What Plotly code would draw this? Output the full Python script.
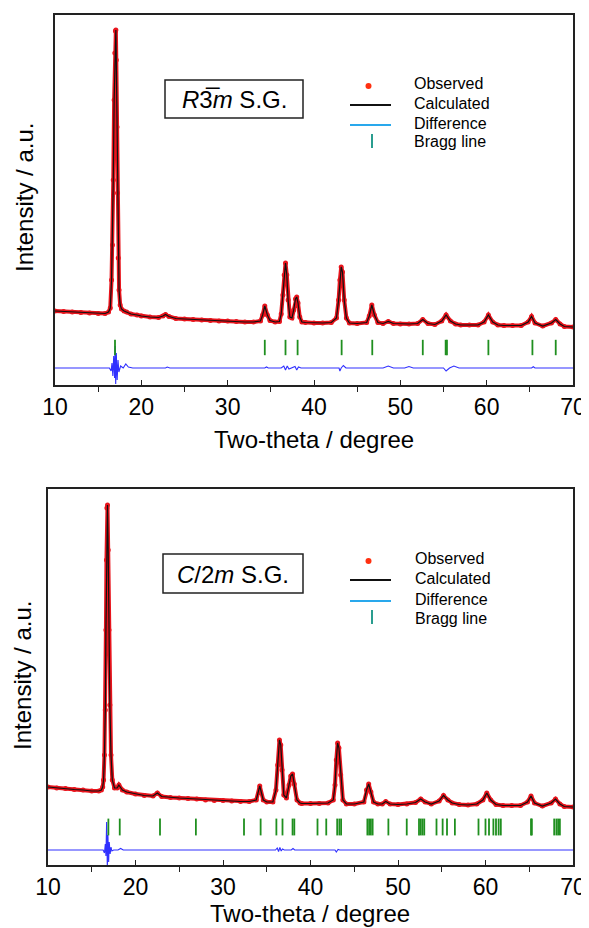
import plotly.graph_objects as go

# The page body has an 8 px margin, so the figure is drawn 8 px in from the corner.
PAGE_W, PAGE_H = 589, 928
OFF = 8
W, H = PAGE_W - OFF, PAGE_H - OFF

# ---------------- data ----------------
# Top panel: R-3m refinement
TOP_TT = [10, 11, 12, 13, 14, 15, 15.8, 16.2, 16.4, 16.55, 16.65, 16.75, 16.85, 16.93, 17.0, 17.05,
          17.1, 17.18, 17.25, 17.33, 17.42, 17.55, 17.7, 18.0, 18.3, 18.8, 19.5, 20, 21, 22, 22.5,
          22.8, 23.2, 24, 25, 26, 27, 28, 29, 30, 31, 32, 33, 33.8, 34.05, 34.3, 34.6, 34.9, 35.5,
          36.0, 36.2, 36.4, 36.55, 36.7, 36.85, 37.0, 37.2, 37.45, 37.65, 37.85, 38.0, 38.15, 38.35,
          38.6, 39, 40, 41, 42, 42.6, 42.85, 43.0, 43.15, 43.3, 43.5, 43.75, 44.1, 45, 46.1, 46.4,
          46.7, 47.0, 47.4, 48, 48.6, 49.2, 50, 51, 52, 52.6, 53.2, 54, 54.8, 55.3, 55.8, 56.4, 57,
          58, 59, 59.7, 60.2, 60.7, 61.3, 62, 63, 64, 64.8, 65.2, 65.6, 66.5, 67.5, 68.0, 68.5, 69, 70]
TOP_OBS = [89, 88.5, 88, 87.5, 87, 86.5, 86.5, 88, 92, 120, 155, 220, 300, 347, 369, 370,
           340, 273, 207, 142, 110, 95, 91, 89, 88, 86, 85, 84, 83, 82.5, 84,
           85.5, 83.5, 81.5, 81, 80.5, 80, 79.5, 79, 79, 78.5, 78, 78, 79, 85, 94, 85, 79.5, 78,
           78.5, 86, 105, 125, 137, 125, 100, 83, 82, 90, 101, 103, 97, 83,
           78, 77.5, 77, 77, 77.5, 82, 100, 120, 133, 128, 100, 82, 77, 76.5, 77.5, 84,
           95, 85, 77.5, 76.5, 78.5, 76.5, 76, 76, 76.5, 80.5, 76.5, 75.5, 79, 85, 79, 76, 75,
           75, 75, 78, 85, 78, 75, 74.5, 74.5, 74.5, 78, 83.5, 77, 74, 77, 80.5, 76, 73.5, 73]
TOP_CALC = TOP_OBS
TOP_DIFF_TT = [10, 16.3, 16.5, 16.6, 16.7, 16.8, 16.9, 16.97, 17.03, 17.1, 17.2, 17.3, 17.4, 17.6,
               17.9, 18.2, 18.5, 19, 22.8, 23.0, 23.3, 34.3, 34.5, 34.7, 36.2, 36.5, 36.7, 36.9,
               37.1, 37.8, 38.0, 38.2, 38.5, 42.9, 43.0, 43.15, 43.4, 43.7, 48, 48.6, 49.2, 50.5,
               51.0, 51.5, 55.0, 55.3, 55.7, 56.2, 56.8, 65.2, 65.4, 65.6, 70]
TOP_DIFF = [0, 0, -3, 5, -8, 12, -10, 22, -16, 15, -12, 8, -4, 2,
            0, 4, 1, 0, 0, 1, 0, 0, 1, 0, 0, 2, -2, 2,
            -1, 1.5, -2, 1, 0, 0, -3, 0, 2.5, 0, 0, 2, 0, 0,
            1.5, 0, 0, -3, 0, 2, 0, 0, 1.3, 0, 0]
TOP_BRAGG = [16.95, 34.3, 36.7, 38.1, 43.2, 46.75, 52.6, 55.25, 55.4, 60.2, 65.3, 68.0]

# Bottom panel: C2/m refinement
BOT_TT = [10, 11, 12, 13, 14, 15, 15.8, 16.1, 16.25, 16.35, 16.45, 16.55, 16.62, 16.68, 16.73,
          16.8, 16.88, 16.97, 17.07, 17.2, 17.35, 17.6, 17.9, 18.1, 18.5, 19, 20, 21, 22, 22.5,
          23, 24, 25, 26, 27, 28, 29, 30, 31, 32, 33, 33.8, 34.2, 34.6, 35, 35.7, 36.05, 36.25,
          36.45, 36.6, 36.75, 36.95, 37.25, 37.55, 37.75, 37.95, 38.15, 38.45, 38.8, 39, 40, 41,
          42, 42.6, 42.8, 42.95, 43.1, 43.25, 43.45, 43.7, 44.1, 45, 46.1, 46.4, 46.65, 46.9, 47.2,
          47.7, 48.2, 48.6, 49.1, 50, 51, 52, 52.6, 53.1, 53.8, 54.7, 55.2, 55.7, 56.2, 57, 58, 59,
          59.7, 60.15, 60.6, 61.2, 62, 63, 64, 64.8, 65.2, 65.6, 66.5, 67.5, 68.0, 68.5, 69, 70]
BOT_OBS = [93, 92, 91.5, 90.5, 90, 89, 89, 90, 93, 100, 125, 170, 250, 320, 372,
           375, 330, 250, 175, 125, 100, 92, 92, 95, 90, 88, 86, 84.5, 84, 87,
           83.5, 82.5, 82, 81.5, 81, 80, 79.5, 79.5, 79, 78.5, 78.5, 80, 94, 80, 78, 78, 90, 115,
           140, 135, 110, 85, 82, 95, 104, 106, 96, 80, 77, 76.5, 76.5, 76.5,
           77, 80, 95, 120, 137, 132, 105, 80, 76, 76, 78, 90,
           96, 88, 78, 76, 76, 78.5, 76, 75.5, 76, 77.5, 81, 78, 76, 79, 84.5, 80, 77, 75.5, 75, 76,
           80, 87, 80, 75.5, 74.5, 74.5, 74.5, 78, 84, 77, 74, 77, 81, 76, 73.5, 73]
BOT_CALC = BOT_OBS
BOT_DIFF_TT = [10, 16.3, 16.45, 16.55, 16.62, 16.7, 16.78, 16.85, 16.93, 17.0, 17.1, 17.2, 17.3,
               17.5, 18.0, 18.3, 18.6, 36.0, 36.2, 36.35, 36.5, 36.65, 36.8, 37.0, 37.8, 38.0,
               38.2, 42.8, 42.95, 43.15, 43.35, 70]
BOT_DIFF = [0, 0, -3, 6, -6, 28, -18, 15, -12, 8, -4, 3, -1,
            0, 0, 1.5, 0, 0, 2, -1.5, 2.5, -1, 1, 0, 0, 1.5,
            0, 0, -2, 0.5, 0, 0]
BOT_BRAGG = [16.9, 18.2, 22.8, 26.9, 32.4, 34.3, 36.1, 36.8, 37.95, 38.15, 40.8, 41.8, 43.05,
             43.3, 43.5, 46.5, 46.7, 46.9, 47.1, 48.9, 51.0, 52.4, 52.6, 52.8, 53.0, 54.4, 55.1,
             55.6, 56.5, 59.2, 60.0, 60.4, 60.9, 61.2, 61.5, 61.75, 65.2, 65.3, 67.85, 68.1,
             68.3, 68.5]

DIFF_OFFSET_TOP = 32
DIFF_OFFSET_BOT = 30
BRAGG_Y_TOP = 52.5
BRAGG_Y_BOT = 53

X_TICKS = [10, 20, 30, 40, 50, 60, 70]
X_MINOR = [15, 25, 35, 45, 55, 65]

FONT = "Liberation Sans, Arial, sans-serif"
RED = "#e8141c"
BLUE = "#3030ff"
GREEN = "#1f8f1f"


def px(x):
    return (x - OFF) / W


def py(y):
    return 1 - (y - OFF) / H


fig = go.Figure()


def add_panel(xa, ya, tt, obs, calc, dtt, diff, doff, bragg, by, bsize):
    fig.add_trace(go.Scatter(x=tt, y=obs, mode="lines+markers", xaxis=xa, yaxis=ya,
                             line=dict(color=RED, width=4),
                             marker=dict(color=RED, size=5), showlegend=False))
    fig.add_trace(go.Scatter(x=tt, y=calc, mode="lines", xaxis=xa, yaxis=ya,
                             line=dict(color="#111111", width=1.2), showlegend=False))
    fig.add_trace(go.Scatter(x=dtt, y=[d + doff for d in diff], mode="lines", xaxis=xa, yaxis=ya,
                             line=dict(color=BLUE, width=1.1), showlegend=False))
    fig.add_trace(go.Scatter(x=bragg, y=[by] * len(bragg), mode="markers", xaxis=xa, yaxis=ya,
                             marker=dict(symbol="line-ns", size=bsize,
                                         line=dict(color=GREEN, width=1.8)),
                             showlegend=False))


add_panel("x", "y", TOP_TT, TOP_OBS, TOP_CALC, TOP_DIFF_TT, TOP_DIFF, DIFF_OFFSET_TOP,
          TOP_BRAGG, BRAGG_Y_TOP, 11)
add_panel("x2", "y2", BOT_TT, BOT_OBS, BOT_CALC, BOT_DIFF_TT, BOT_DIFF, DIFF_OFFSET_BOT,
          BOT_BRAGG, BRAGG_Y_BOT, 12)

xcommon = dict(range=[10, 70], showline=True, linewidth=2, linecolor="#222", mirror=True,
               ticks="inside", ticklen=5, tickwidth=1.2, tickcolor="#222",
               tickvals=X_TICKS, ticktext=[str(v) for v in X_TICKS],
               tickfont=dict(family=FONT, size=23, color="#000"),
               minor=dict(tickvals=X_MINOR, ticks="outside", ticklen=5, tickwidth=1.2,
                          tickcolor="#222"),
               showgrid=False, zeroline=False, automargin=False)
ycommon = dict(showline=True, linewidth=2, linecolor="#222", mirror=True, ticks="",
               showticklabels=False, showgrid=False, zeroline=False, automargin=False)

fig.update_layout(
    template="none",
    width=W, height=H, margin=dict(l=0, r=0, t=0, b=0, pad=0, autoexpand=False),
    paper_bgcolor="white", plot_bgcolor="white", showlegend=False,
    xaxis=dict(domain=[px(55), px(573)], anchor="y", **xcommon),
    yaxis=dict(domain=[py(385), py(15)], anchor="x", range=[15, 385], **ycommon),
    xaxis2=dict(domain=[px(48), px(573)], anchor="y2", **xcommon),
    yaxis2=dict(domain=[py(865), py(489)], anchor="x2", range=[15, 391], **ycommon),
)

ann = []
shapes = []


def text(x, y, s, size, anchor="center", angle=0):
    ann.append(dict(x=px(x), y=py(y), xref="paper", yref="paper", text=s, showarrow=False,
                    xanchor=anchor, yanchor="middle", textangle=angle,
                    font=dict(family=FONT, size=size, color="#000")))


# axis titles
text(314, 440, "Two-theta / degree", 24)
text(310, 913, "Two-theta / degree", 24)
text(24, 198, "Intensity / a.u.", 24, angle=-90)
text(22, 676, "Intensity / a.u.", 24, angle=-90)

# space group boxes
for (x0, y0, x1, y1, label) in [(165, 80, 303, 118, "<i>R</i>3\u0305<i>m</i> S.G."),
                                (163, 554, 303, 593, "<i>C</i>/2<i>m</i> S.G.")]:
    shapes.append(dict(type="rect", xref="paper", yref="paper", x0=px(x0), x1=px(x1),
                       y0=py(y0), y1=py(y1), line=dict(color="#222", width=1.5)))
    text((x0 + x1) / 2, (y0 + y1) / 2 + 1, label, 24)

# legends
LEG_LABELS = ["Observed", "Calculated", "Difference", "Bragg line"]
for (dot_y, rows, lx) in [(86, [84, 103, 123, 142], 412), (561, [558, 578, 599, 618], 413)]:
    for lab, ry in zip(LEG_LABELS, rows):
        text(lx, ry, lab, 16, anchor="left")
    shapes.append(dict(type="circle", xref="paper", yref="paper", x0=px(365.5), x1=px(371.5),
                       y0=py(dot_y - 3), y1=py(dot_y + 3), fillcolor="#ff3010",
                       line=dict(width=0)))
    shapes.append(dict(type="line", xref="paper", yref="paper", x0=px(350), x1=px(391),
                       y0=py(rows[1] + 2), y1=py(rows[1] + 2), line=dict(color="#111", width=2)))
    shapes.append(dict(type="line", xref="paper", yref="paper", x0=px(350), x1=px(391),
                       y0=py(rows[2] + 2), y1=py(rows[2] + 2), line=dict(color="#29a8ec", width=2)))
    shapes.append(dict(type="line", xref="paper", yref="paper", x0=px(372), x1=px(372),
                       y0=py(rows[3] - 8), y1=py(rows[3] + 6), line=dict(color="#2a9d8f", width=2)))

fig.update_layout(annotations=ann, shapes=shapes)
fig.write_html("out.html")
